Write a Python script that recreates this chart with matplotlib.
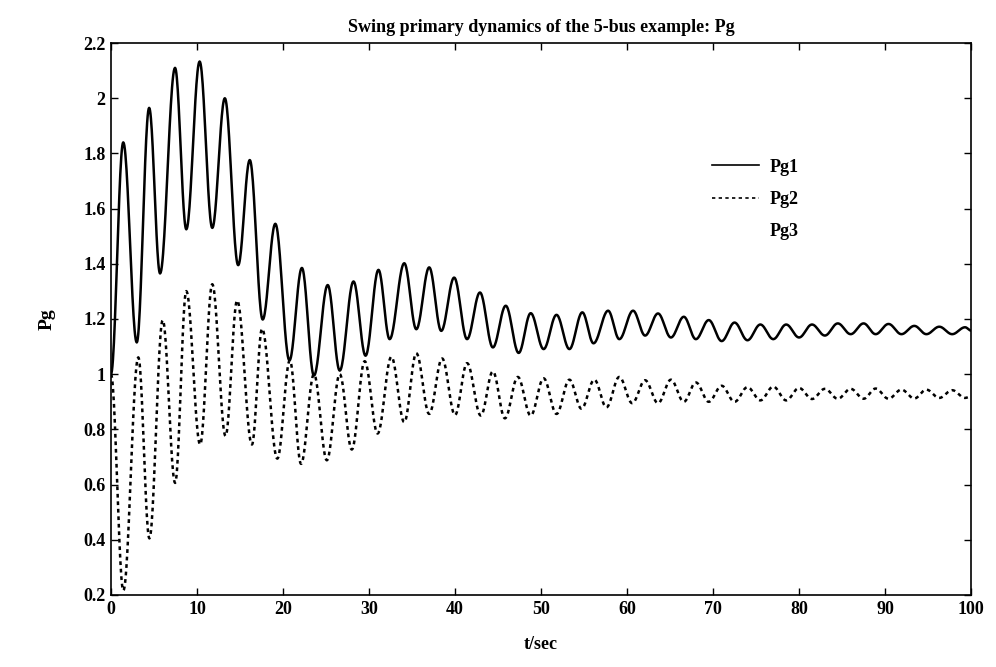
import matplotlib
matplotlib.use("Agg")
import matplotlib.pyplot as plt
from matplotlib.lines import Line2D
import numpy as np

# extrema (time, value)
pg1_t = [0.0, 1.43, 3.0, 4.44, 5.71, 7.45, 8.76, 10.31, 11.78, 13.24, 14.79, 16.14,
         17.64, 19.11, 20.75, 22.2, 23.6, 25.2, 26.6, 28.2, 29.6, 31.1, 32.4, 34.1,
         35.5, 37.0, 38.4, 39.9, 41.4, 42.9, 44.4, 45.9, 47.4, 48.8, 50.3, 51.8,
         53.3, 54.8, 56.1, 57.8, 59.1, 60.7, 62.1, 63.6, 65.1, 66.6, 68.0, 69.5,
         71.0, 72.5, 74.0, 75.5, 77.0, 78.5, 80.0, 81.5, 83.0, 84.5, 86.0, 87.5,
         88.9, 90.4, 91.9, 93.4, 94.8, 96.3, 97.8, 99.3, 100.0]
pg1_v = [1.00, 1.84, 1.115, 1.965, 1.365, 2.11, 1.525, 2.133, 1.53, 2.00, 1.395, 1.776,
         1.198, 1.545, 1.05, 1.385, 0.995, 1.323, 1.013, 1.336, 1.067, 1.378, 1.127, 1.402,
         1.163, 1.387, 1.157, 1.35, 1.127, 1.296, 1.097, 1.248, 1.077, 1.221, 1.091, 1.215,
         1.091, 1.224, 1.112, 1.23, 1.127, 1.23, 1.14, 1.22, 1.133, 1.208, 1.127, 1.196,
         1.12, 1.187, 1.123, 1.18, 1.127, 1.18, 1.133, 1.18, 1.14, 1.184, 1.145, 1.184,
         1.145, 1.182, 1.145, 1.175, 1.145, 1.172, 1.145, 1.17, 1.158]

pg2_t = [0.0, 1.44, 3.18, 4.47, 6.02, 7.46, 8.76, 10.37, 11.78, 13.32, 14.67, 16.39,
         17.57, 19.34, 20.8, 22.1, 23.6, 25.1, 26.6, 28.0, 29.5, 31.0, 32.6, 34.1,
         35.5, 37.0, 38.5, 40.0, 41.4, 43.0, 44.4, 45.8, 47.3, 48.8, 50.3, 51.8,
         53.3, 54.7, 56.2, 57.6, 59.1, 60.6, 62.1, 63.6, 65.1, 66.6, 68.0, 69.5,
         71.0, 72.5, 74.0, 75.5, 77.0, 78.5, 80.0, 81.5, 83.0, 84.5, 86.0, 87.5,
         88.9, 90.4, 91.9, 93.4, 94.8, 96.3, 97.8, 99.3, 100.0]
pg2_v = [1.00, 0.216, 1.061, 0.405, 1.196, 0.606, 1.301, 0.745, 1.326, 0.776, 1.267, 0.745,
         1.165, 0.694, 1.05, 0.675, 1.0, 0.688, 1.0, 0.727, 1.047, 0.785, 1.063, 0.826,
         1.076, 0.856, 1.057, 0.852, 1.04, 0.85, 1.01, 0.84, 0.99, 0.85, 0.985, 0.856,
         0.98, 0.875, 0.98, 0.88, 0.99, 0.895, 0.978, 0.895, 0.98, 0.9, 0.97, 0.9,
         0.958, 0.9, 0.953, 0.905, 0.955, 0.905, 0.95, 0.91, 0.947, 0.911, 0.947, 0.911,
         0.948, 0.911, 0.944, 0.912, 0.944, 0.914, 0.942, 0.914, 0.92]

xticks = [0, 10, 20, 30, 40, 50, 60, 70, 80, 90, 100]
yticks = [0.2, 0.4, 0.6, 0.8, 1, 1.2, 1.4, 1.6, 1.8, 2, 2.2]


def smooth(ts, vs, n=25):
    # half-cosine between consecutive extrema
    xs, ys = [], []
    for i in range(len(ts) - 1):
        s = np.linspace(0, 1, n, endpoint=False)
        xs.append(ts[i] + (ts[i + 1] - ts[i]) * s)
        ys.append(vs[i] + (vs[i + 1] - vs[i]) * (1 - np.cos(np.pi * s)) / 2)
    xs.append([ts[-1]])
    ys.append([vs[-1]])
    return np.concatenate(xs), np.concatenate(ys)


plt.rcParams['font.family'] = ['Liberation Serif', 'DejaVu Serif']
plt.rcParams['font.weight'] = 'bold'

fig = plt.figure(figsize=(9.96, 6.67), dpi=100)
ax = fig.add_axes([0.1114, 0.108, 0.8636, 0.8275])

x1, y1 = smooth(pg1_t, pg1_v)
x2, y2 = smooth(pg2_t, pg2_v)
ax.plot(x1, y1, color='black', lw=1.8)
ax.plot(x2, y2, color='black', lw=1.8, linestyle=(0, (1.5, 1.5)))

ax.set_xlim(0, 100)
ax.set_ylim(0.2, 2.2)
ax.set_xticks(xticks)
ax.set_xticklabels([str(v) for v in xticks])
ax.set_yticks(yticks)
ax.set_yticklabels([f"{v:g}" for v in yticks])
ax.tick_params(direction='in', length=5, width=1, top=True, right=True,
               labelsize=13, pad=4)
for sp in ax.spines.values():
    sp.set_linewidth(1.2)

ax.set_title("Swing primary dynamics of the 5-bus example: Pg", fontsize=13,
             fontweight='bold', pad=8)
ax.set_xlabel("t/sec", fontsize=13, fontweight='bold', labelpad=13)
ax.set_ylabel("Pg", fontsize=14, fontweight='bold', labelpad=20)

handles = [Line2D([], [], color='black', lw=1.2),
           Line2D([], [], color='black', lw=1.2, linestyle=(0, (2, 2))),
           Line2D([], [], color='none', lw=1.2)]
ax.legend(handles, ['Pg1', 'Pg2', 'Pg3'], loc='upper left', bbox_to_anchor=(0.68, 0.82),
          frameon=False, fontsize=13, handlelength=2.6, labelspacing=0.85, handletextpad=0.6)

fig.savefig("out.png", dpi=100)
